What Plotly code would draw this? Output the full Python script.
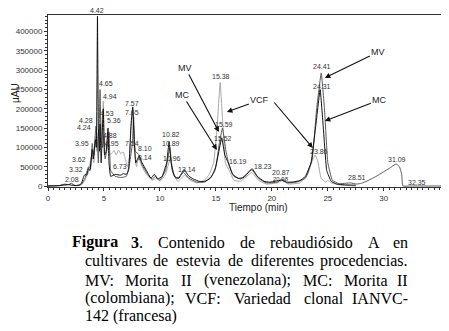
import plotly.graph_objects as go

# ---------------- data (retention time in min, signal in µAU) ----------------
vcf_t = [0, 0.8, 1.3, 1.7, 2.08, 2.5, 3.0, 3.3, 3.6, 3.9, 4.1, 4.24, 4.35, 4.5, 4.6, 4.7, 4.8, 4.94,
         5.05, 5.2, 5.36, 5.5, 5.7, 5.9, 6.1, 6.3, 6.5, 6.73, 6.9, 7.1, 7.3, 7.45, 7.57, 7.7, 7.9,
         8.1, 8.4, 8.8, 9.3, 9.7, 10.0, 10.5, 10.96, 11.2, 11.6, 12.2, 12.7, 13.3, 14.0, 14.4, 14.8,
         15.1, 15.38, 15.6, 15.85, 16.2, 16.6, 17.2, 18.2, 18.8, 19.5, 20.5, 20.9, 21.5, 22.5, 23.2,
         23.6, 23.86, 24.1, 24.4, 24.8, 25.0, 25.3, 26.0, 27.5]
vcf_v = [0, 500, 2000, 1500, 6000, 1000, 3000, 15000, 35000, 80000, 60000, 130000, 90000, 140000,
         100000, 180000, 110000, 220000, 120000, 100000, 130000, 80000, 85000, 92000, 80000, 93000,
         84000, 88000, 70000, 50000, 80000, 170000, 200000, 100000, 50000, 75000, 50000, 30000,
         15000, 20000, 12000, 30000, 75000, 30000, 12000, 28000, 15000, 8000, 15000, 30000, 60000,
         150000, 268000, 170000, 60000, 40000, 15000, 12000, 35000, 15000, 5000, 8000, 14000, 5000,
         8000, 30000, 65000, 80000, 65000, 20000, 10000, 15000, 8000, 3000, 0]

mv_t = [0, 1.0, 1.5, 1.8, 2.08, 2.4, 3.0, 3.3, 3.62, 3.8, 3.95, 4.1, 4.28, 4.4, 4.5, 4.65, 4.75,
        4.88, 5.0, 5.1, 5.3, 5.45, 5.6, 6.0, 6.5, 7.0, 7.3, 7.54, 7.65, 7.8, 8.1, 8.4, 8.9, 9.3,
        9.6, 10.0, 10.5, 10.89, 11.1, 11.5, 12.1, 12.6, 13.3, 14.0, 14.6, 15.0, 15.3, 15.59, 15.9,
        16.2, 16.6, 17.2, 18.2, 18.8, 19.5, 20.5, 20.9, 21.4, 22.2, 23.0, 23.6, 24.0, 24.41, 24.7,
        25.0, 25.4, 26.0, 27.0, 27.6, 28.0, 28.51, 29.0, 29.5, 30.0, 30.5, 31.09, 31.4, 31.6, 31.7,
        32.35, 35.2]
mv_v = [0, 1000, 5000, 3000, 7000, 1000, 5000, 20000, 50000, 45000, 110000, 80000, 155000,
        120000, 60000, 250000, 120000, 100000, 130000, 70000, 100000, 140000, 40000, 25000, 22000,
        25000, 60000, 110000, 180000, 90000, 82000, 55000, 30000, 18000, 25000, 15000, 40000,
        100000, 40000, 18000, 35000, 20000, 10000, 10000, 25000, 50000, 110000, 150000, 90000,
        50000, 25000, 18000, 42000, 20000, 8000, 10000, 18000, 8000, 10000, 20000, 70000, 200000,
        293000, 200000, 60000, 15000, 6000, 8000, 5000, 7000, 13000, 20000, 28000, 37000, 46000,
        57000, 50000, 30000, 0, 0, 0]

mc_t = [0, 0.5, 1.0, 1.5, 1.8, 2.1, 2.5, 2.8, 3.0, 3.2, 3.32, 3.45, 3.62, 3.75, 3.95, 4.05, 4.24,
        4.32, 4.42, 4.5, 4.6, 4.65, 4.75, 4.85, 4.94, 5.05, 5.2, 5.36, 5.45, 5.6, 6.0, 6.5, 6.73,
        7.0, 7.2, 7.4, 7.57, 7.7, 7.84, 8.0, 8.14, 8.4, 8.8, 9.2, 9.5, 9.8, 10.2, 10.6, 10.82, 11.0,
        11.3, 11.7, 12.14, 12.6, 13.0, 13.5, 14.0, 14.5, 14.9, 15.2, 15.52, 15.8, 16.19, 16.5, 17.0,
        17.5, 18.23, 18.7, 19.3, 19.8, 20.3, 20.87, 21.3, 21.8, 22.5, 23.0, 23.5, 23.9, 24.31, 24.6,
        24.9, 25.3, 25.8, 26.5, 27.5]
mc_v = [0, 500, 1000, 3000, 4000, 2000, 1000, 1500, 8000, 25000, 30000, 28000, 45000, 40000,
        95000, 70000, 120000, 100000, 440000, 150000, 90000, 160000, 60000, 140000, 200000, 80000,
        90000, 150000, 60000, 25000, 30000, 28000, 32000, 30000, 40000, 150000, 205000, 120000,
        60000, 70000, 78000, 60000, 40000, 20000, 30000, 18000, 25000, 60000, 115000, 60000, 25000,
        20000, 42000, 25000, 18000, 12000, 12000, 20000, 40000, 80000, 125000, 80000, 55000, 30000,
        20000, 22000, 45000, 25000, 12000, 10000, 12000, 15000, 10000, 10000, 14000, 25000, 60000,
        150000, 250000, 150000, 40000, 12000, 5000, 3000, 2000]

# peak labels: text, retention time position, signal level, font size
peak_text = ["2.08", "3.32", "3.62", "3.95", "4.24", "4.28", "4.42", "4.65", "4.94", "4.53", "5.36",
             "4.88", "4.95", "6.73", "7.57", "7.65", "7.54", "8.10", "8.14", "10.82", "10.89",
             "10.96", "13.14", "15.38", "15.59", "15.52", "16.19", "18.23", "20.87", "20.98",
             "24.41", "24.31", "23.86", "28.51", "31.09", "32.35"]
peak_t = [2.10, 2.46, 2.81, 3.08, 3.26, 3.35, 4.42, 5.18, 5.58, 5.27, 5.94, 5.54, 5.76, 6.43, 7.54,
          7.54, 7.54, 8.71, 8.66, 10.98, 10.98, 11.07, 12.41, 15.45, 15.71, 15.67, 16.96, 19.24,
          20.80, 20.85, 24.51, 24.51, 24.20, 27.63, 31.21, 32.95]
peak_y = [18100, 41500, 67400, 111400, 150300, 168400, 450800, 264300, 230600, 189100, 168400,
          129600, 111400, 51800, 212500, 191700, 111400, 95900, 75100, 134700, 111400, 70000,
          44000, 282400, 160600, 121800, 62200, 51800, 33700, 17000, 308300, 256500, 88100, 23300,
          67400, 7800]
peak_size = [7] * 29 + [6] + [7] * 6

y_ticks = [0, 50000, 100000, 150000, 200000, 250000, 300000, 350000, 400000]
y_tick_text = ["0", "50000", "100000", "150000", "200000", "250000", "300000", "350000", "400000"]
x_ticks = [0, 5, 10, 15, 20, 25, 30]

Y_MAX = 443000

fig = go.Figure()
for t, v, col in [(vcf_t, vcf_v, "#a8a8a8"), (mv_t, mv_v, "#5a5a5a"), (mc_t, mc_v, "#111111")]:
    fig.add_trace(go.Scatter(x=t, y=v, mode="lines", line=dict(color=col, width=1,
                                                                shape="spline", smoothing=0.3),
                             showlegend=False, hoverinfo="skip"))

ann = []
for txt, t, v, s in zip(peak_text, peak_t, peak_y, peak_size):
    above = v > Y_MAX
    ann.append(dict(x=t, y=(Y_MAX - 3000) if above else v, xref="x", yref="y", text=txt,
                    showarrow=False, xanchor="center", yanchor="bottom" if above else "middle",
                    font=dict(family="Liberation Sans", size=s, color="#333")))

# arrow callouts: (text, text position t, text level, head t, head level)
callouts = [("MV", 12.28, 305700, 15.27, 139900),
            ("MC", 12.01, 235800, 15.09, 93300),
            ("VCF", 18.93, 222800, 15.98, 191700),
            ("", 20.10, 220200, 23.66, 98500),
            ("MV", 29.51, 347200, 24.73, 279800),
            ("MC", 29.60, 222800, 24.73, 168400)]
for txt, tx, ty, hx, hy in callouts:
    ann.append(dict(x=hx, y=hy, ax=tx, ay=ty, xref="x", yref="y", axref="x", ayref="y",
                    text=txt, showarrow=True, arrowhead=2, arrowsize=1, arrowwidth=1.1,
                    arrowcolor="#111", font=dict(family="Liberation Sans", size=9, color="#222")))

# page-pixel -> paper helpers (plot area spans page x 48..442, y 15..187)
def px(xp):
    return (xp - 48) / 394.0

def py(yp):
    return (187 - yp) / 172.0

ann.append(dict(x=px(258), y=py(207), xref="paper", yref="paper", text="Tiempo (min)",
                showarrow=False, xanchor="center", yanchor="middle",
                font=dict(family="Liberation Sans", size=10, color="#222")))
ann.append(dict(x=px(15), y=py(93), xref="paper", yref="paper", text="µAU", textangle=-90,
                showarrow=False, xanchor="center", yanchor="middle",
                font=dict(family="Liberation Sans", size=10, color="#222")))

# caption (justified lines built word by word)
serif = dict(family="Liberation Serif", size=16, color="#000")
caption_lines = [
    (242, [("<b>Figura</b>", 70, 116), ("<b>3</b>.", 131, 143), ("Contenido", 158, 225),
           ("de", 240, 255), ("rebaudiósido", 270, 353), ("A", 368, 380), ("en", 395, 410)]),
    (261, [("cultivares", 83, 145), ("de", 153, 168), ("estevia", 176, 220), ("de", 228, 243),
           ("diferentes", 251, 314), ("procedencias.", 322, 410)]),
    (280, [("MV:", 83, 113), ("Morita", 125, 169), ("II", 181, 192), ("(venezolana);", 204, 291),
           ("MC:", 303, 332), ("Morita", 344, 388), ("II", 400, 410)]),
    (298, [("(colombiana);", 83, 173), ("VCF:", 185, 221), ("Variedad", 233, 292),
           ("clonal", 304, 343), ("IANVC-", 355, 410)]),
    (316, [("142 (francesa)", 83, 172)]),
]
for yl, words in caption_lines:
    n = len(words)
    for i, (w, x0, x1) in enumerate(words):
        if i == 0:
            xa, xx = "left", x0
        elif i == n - 1:
            xa, xx = "right", x1
        else:
            xa, xx = "center", (x0 + x1) / 2
        ann.append(dict(x=px(xx), y=py(yl), xref="paper", yref="paper", text=w, showarrow=False,
                        xanchor=xa, yanchor="middle", font=serif))

# the page body has an 8px default margin, so the figure is 8px smaller than the window
fig.update_layout(
    width=441, height=323, margin=dict(l=40, r=7, t=7, b=144),
    paper_bgcolor="white", plot_bgcolor="white", annotations=ann,
    xaxis=dict(range=[0, 35.2], tickvals=x_ticks, showgrid=False, zeroline=False,
               showline=True, mirror=True, linecolor="#333", linewidth=1,
               ticks="outside", ticklen=3, tickcolor="#333",
               minor=dict(ticks="outside", dtick=0.5, ticklen=2, tickcolor="#333"),
               tickfont=dict(family="Liberation Sans", size=8, color="#333")),
    yaxis=dict(range=[-2600, Y_MAX], tickvals=y_ticks, ticktext=y_tick_text, showgrid=False,
               zeroline=False, showline=True, mirror=True, linecolor="#333", linewidth=1,
               ticks="outside", ticklen=3, tickcolor="#333",
               minor=dict(ticks="outside", dtick=10000, ticklen=2, tickcolor="#333"),
               tickfont=dict(family="Liberation Sans", size=8, color="#333")),
)
fig.write_html("out.html")
